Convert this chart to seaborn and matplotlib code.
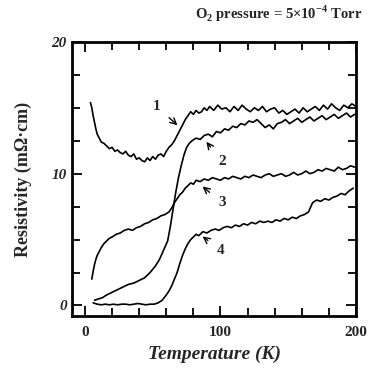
import numpy as np
import pandas as pd
import seaborn as sns
import matplotlib
matplotlib.use("Agg")
import matplotlib.pyplot as plt
from matplotlib.ticker import MultipleLocator

# curve 1
t1 = [4, 5, 6, 7, 8, 9, 10,
      12, 14, 16, 18, 20, 22, 24, 26, 28, 30, 32, 34, 36, 38, 40, 42, 44, 46, 48, 50,
      52, 54, 56, 58, 60, 62, 64, 66, 68, 70, 72, 74, 76, 78, 80, 82, 84, 86, 88, 90,
      92,
      95, 98, 101, 104, 107, 110, 113, 116, 119, 122, 125, 128, 131, 134, 137, 140, 143, 146,
      149, 152, 155, 158, 161, 164, 167, 170, 173, 176, 179, 182, 185, 188, 191, 194, 197, 200]
r1 = [15.4, 15.0, 14.4, 13.9, 13.4, 13.0, 12.8,
      12.4, 12.3, 12.1, 11.9, 12.0, 11.7, 11.8, 11.6, 11.5, 11.7, 11.4, 11.3, 11.5, 11.1, 11.2,
      11.0, 10.9, 11.2, 11.0, 11.3, 11.1, 11.4, 11.5, 11.3, 11.7, 12.0, 12.2, 12.5, 12.9, 13.3,
      13.7, 14.1, 14.4, 14.7, 14.5, 14.8, 14.6, 14.7, 15.0, 14.8,
      15.1,
      14.8, 15.2, 14.9, 15.0, 14.7, 15.1, 14.8, 15.2, 14.9, 14.7, 15.0, 14.8, 15.1, 14.7, 14.9,
      15.0, 14.6, 14.8, 14.5, 14.7, 14.9, 14.6, 15.0, 14.7, 14.9, 15.1, 14.8, 15.2, 14.9, 15.3,
      15.0, 14.8, 15.2, 15.0, 15.3, 15.1]

# curve 2
t2 = [7, 10, 13, 16, 20, 24, 28, 32, 36, 40, 44, 48, 52, 55, 58, 61,
      63, 65, 67, 69, 71, 73, 75, 77, 79,
      82, 85, 88, 91, 94, 97, 100, 103, 106, 109, 112, 115, 118, 121, 124, 127, 130, 133, 136,
      139, 142, 145, 148, 151, 154, 157, 160, 163, 166, 169, 172, 175, 178, 181, 184, 187, 190,
      193, 196, 199]
r2 = [0.4, 0.5, 0.6, 0.8, 1.0, 1.2, 1.4, 1.6, 1.7, 1.9, 2.1, 2.5, 3.0, 3.5, 4.2, 4.9,
      6.0, 7.3, 8.6, 9.7, 10.6, 11.4, 12.0, 12.3, 12.5,
      12.7, 12.6, 12.9, 13.0, 12.8, 13.2, 13.1, 13.4, 13.3, 13.6, 13.5, 13.8, 13.7, 14.0, 13.9,
      14.1, 13.8, 13.5, 13.7, 13.4, 13.8, 13.9, 14.1, 13.8, 14.0, 14.2, 13.9, 14.1, 14.3, 14.0,
      14.2, 14.4, 14.1, 14.3, 14.5, 14.2, 14.4, 14.6, 14.3, 14.5]

# curve 3
t3 = [5, 6, 7, 8, 9, 10, 12, 14, 16, 18, 20,
      23, 26, 29, 32, 35, 38, 41, 44, 47, 50, 53, 56, 59, 62,
      64, 66, 68, 70, 72, 74, 76, 78, 80, 82,
      85, 88, 91, 94, 97, 100, 103, 106, 109, 112, 115, 118, 121, 124, 127, 130, 133, 136, 139,
      142, 145, 148, 151, 154, 157, 160, 163, 166, 169, 172, 175, 178, 181, 184, 187, 190, 193,
      196, 199]
r3 = [2.0, 2.6, 3.1, 3.5, 3.8, 4.0, 4.4, 4.7, 4.9, 5.1, 5.2,
      5.4, 5.5, 5.7, 5.8, 5.7, 5.9, 6.0, 6.2, 6.3, 6.5, 6.6, 6.8, 6.9, 7.1,
      7.4, 7.8, 8.1, 8.4, 8.6, 8.9, 9.1, 9.3, 9.2, 9.5,
      9.4, 9.6, 9.5, 9.7, 9.6, 9.5, 9.7, 9.6, 9.8, 9.7, 9.6, 9.8, 9.7, 9.9, 9.8, 9.7, 9.9, 10.0,
      9.8, 9.9, 10.0, 9.8, 9.9, 10.1, 9.9, 10.0, 10.2, 10.0, 10.1, 10.3, 10.2, 10.4, 10.3, 10.2,
      10.5, 10.3, 10.4, 10.6, 10.5]

# curve 4
t4 = [6, 9, 12, 15, 18, 21, 24, 27, 30, 33, 36, 39, 42, 45, 48, 51, 54, 57, 60,
      62, 64, 66, 68, 70, 72, 74, 76, 78, 80, 82, 84,
      87, 90, 93, 96, 99, 102, 105, 108, 111, 114, 117, 120, 123, 126, 129, 132, 135, 138, 141,
      144, 147, 150, 153, 156, 159, 162, 165, 168, 171, 174, 177, 180, 183, 186, 189, 192, 195, 198]
r4 = [0.2, 0.1, 0.05, 0.1, 0.05, 0.1, 0.05, 0.1, 0.1, 0.05, 0.1, 0.15, 0.1, 0.05, 0.1, 0.1,
      0.2, 0.4, 0.8,
      1.1, 1.5, 2.0, 2.5, 3.2, 3.8, 4.3, 4.7, 5.0, 5.2, 5.4, 5.3,
      5.6, 5.5, 5.7, 5.8, 5.7, 5.9, 6.0, 5.9, 6.1, 6.0, 6.2, 6.1, 6.3, 6.2, 6.4, 6.3, 6.4, 6.3,
      6.5, 6.4, 6.6, 6.5, 6.7, 6.6, 6.8, 6.9, 7.1, 7.8, 8.0, 7.9, 8.1, 8.0, 8.2, 8.3, 8.5, 8.4,
      8.7, 8.9]

curves = [("1", t1, r1), ("2", t2, r2), ("3", t3, r3), ("4", t4, r4)]

# label text, label position, arrow tip
labels = ["1", "2", "3", "4"]
label_xy = [(53, 15.1), (101, 10.9), (101, 7.8), (100, 4.2)]
tip_xy = [(69, 13.6), (89, 12.5), (86, 9.1), (86, 5.3)]

sns.set_style("ticks")
plt.rcParams["font.family"] = ["Liberation Serif", "DejaVu Serif"]
plt.rcParams["font.weight"] = "bold"
plt.rcParams["mathtext.fontset"] = "custom"
plt.rcParams["mathtext.rm"] = "Liberation Serif:bold"
plt.rcParams["mathtext.bf"] = "Liberation Serif:bold"

fig = plt.figure(figsize=(3.7, 3.74), dpi=100)
ax = fig.add_axes([0.195, 0.155, 0.767, 0.733])

frames = []
for name, t, r in curves:
    frames.append(pd.DataFrame({"T": t, "R": r, "curve": name}))
df = pd.concat(frames, ignore_index=True)

sns.lineplot(data=df, x="T", y="R", units="curve", estimator=None,
             color="black", lw=1.2, sort=False, ax=ax)

for lab, (lx, ly), (tx, ty) in zip(labels, label_xy, tip_xy):
    ax.annotate(lab, xy=(tx, ty), xytext=(lx, ly), fontsize=11, fontweight="bold",
                ha="center", va="center",
                arrowprops=dict(arrowstyle="->", color="black", lw=1.0,
                                shrinkA=5, shrinkB=1))

ax.set_xlim(-9.5, 200)
ax.set_ylim(-0.8, 20)
ax.xaxis.set_major_locator(MultipleLocator(100))
ax.xaxis.set_minor_locator(MultipleLocator(20))
ax.yaxis.set_major_locator(MultipleLocator(10))
ax.yaxis.set_minor_locator(MultipleLocator(2.5))
ax.tick_params(which="both", direction="in", top=True, right=True, width=1.3,
               labelsize=11, color="black")
ax.tick_params(which="major", length=7)
ax.tick_params(which="minor", length=6)
ax.tick_params(axis="x", pad=7)
ax.tick_params(axis="y", pad=4)
for lbl in ax.get_xticklabels() + ax.get_yticklabels():
    lbl.set_fontweight("bold")
for lbl in ax.get_yticklabels():
    lbl.set_fontstyle("italic")
for sp in ax.spines.values():
    sp.set_linewidth(2.0)
    sp.set_color("black")

ax.set_xlabel("Temperature (K)", fontsize=14, fontweight="bold", fontstyle="italic",
              labelpad=5)
ax.set_ylabel("Resistivity (mΩ·cm)", fontsize=13, fontweight="bold", labelpad=14)

fig.text(0.978, 0.962, r"O$_\mathbf{2}$ pressure = 5×10$^{\mathbf{-4}}$ Torr",
         ha="right", va="center", fontsize=10.5, fontweight="bold")

fig.savefig("out.png", dpi=100, facecolor="white")
